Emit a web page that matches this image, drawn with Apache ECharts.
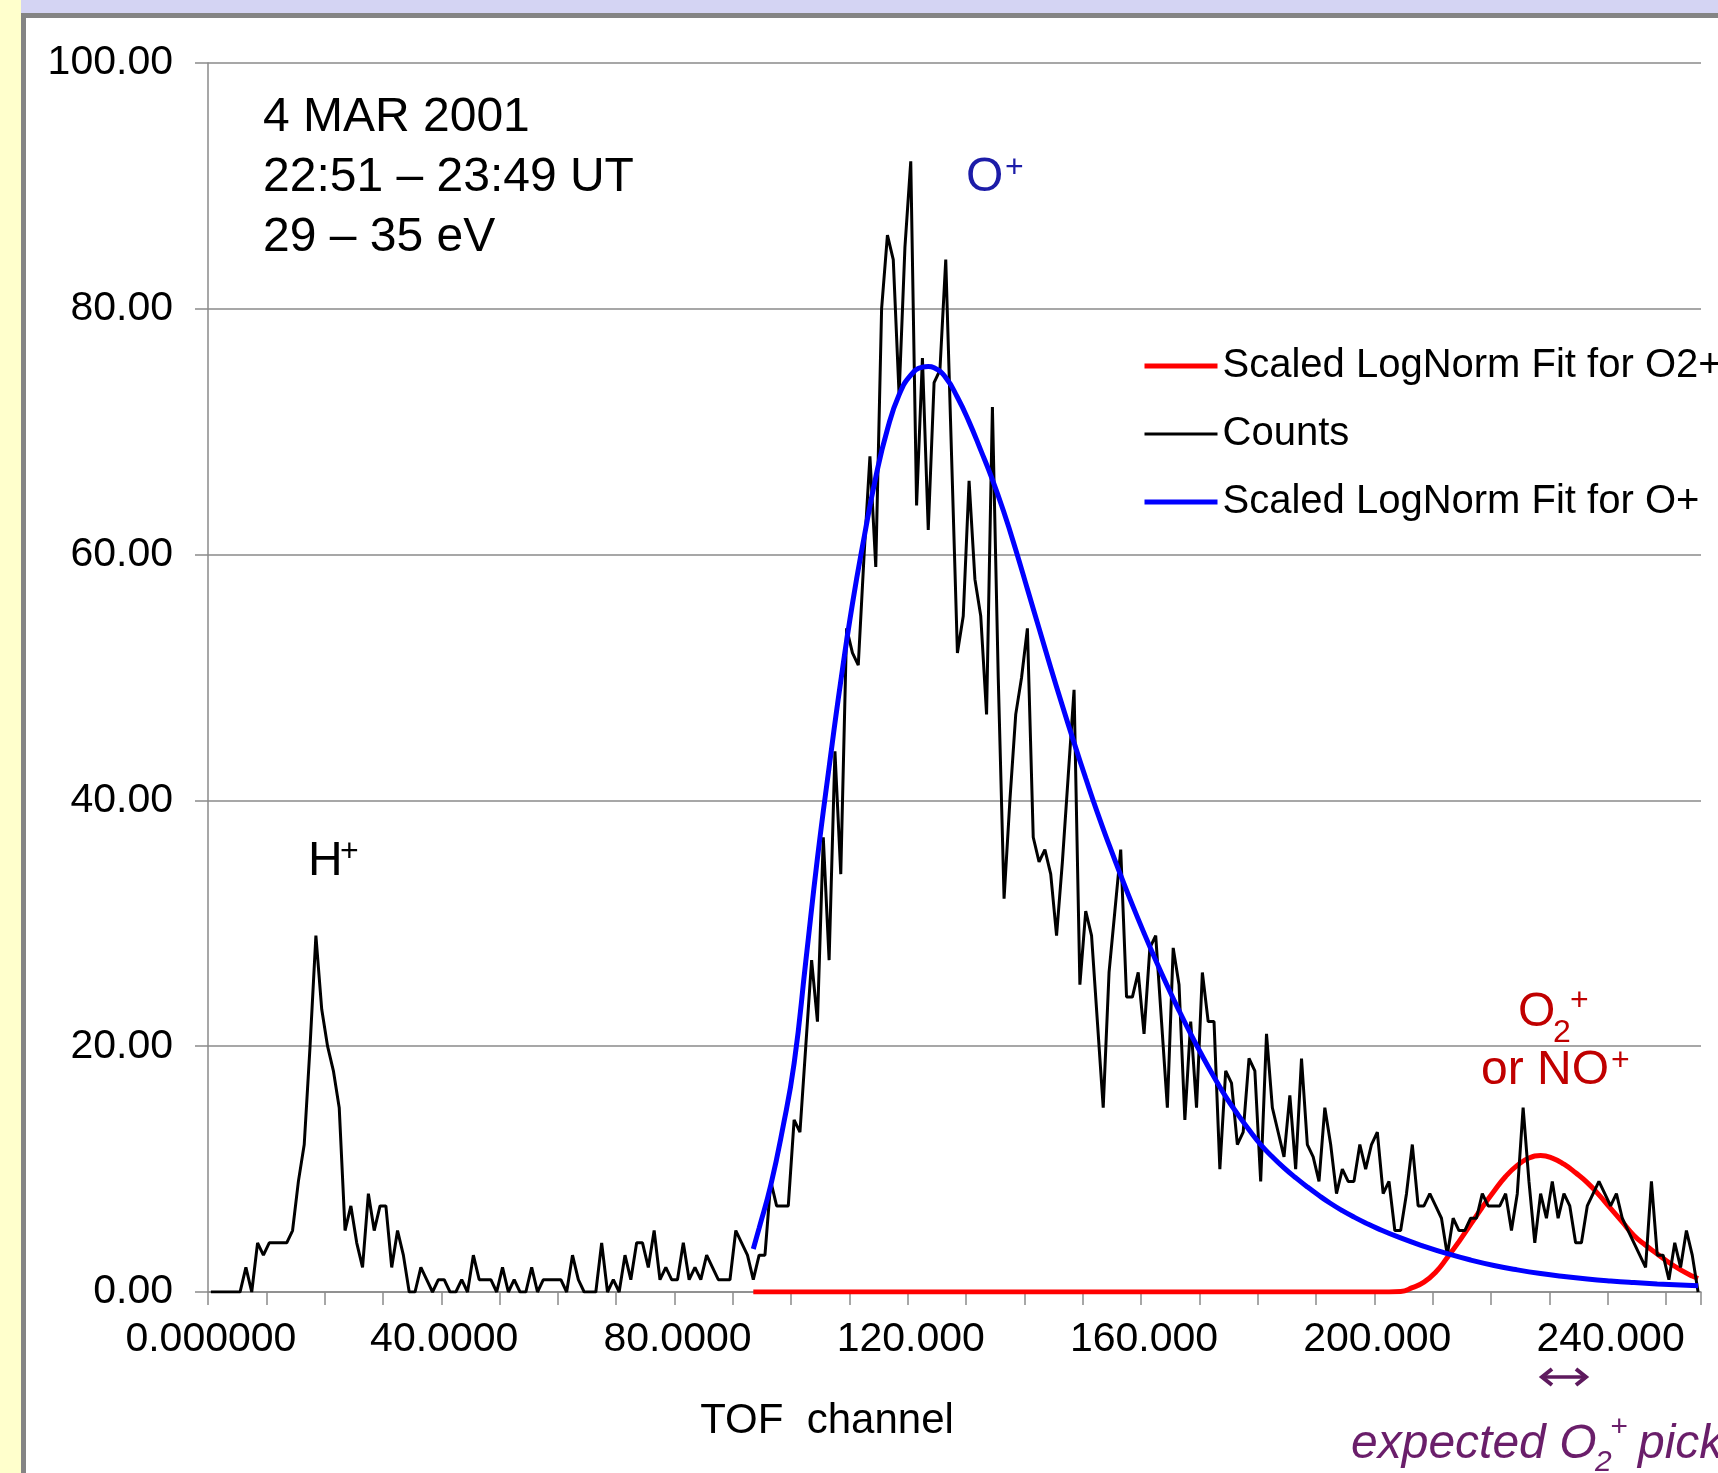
<!DOCTYPE html>
<html>
<head>
<meta charset="utf-8">
<script src="https://cdn.jsdelivr.net/npm/echarts@6/dist/echarts.min.js"></script>
<style>
html,body{margin:0;padding:0;background:#ffffff;}
#chart{width:1718px;height:1473px;}
</style>
</head>
<body>
<div id="chart"></div>
<script>
// ---------------- data ----------------
// TOF channels 0..255 (category axis)
const channels = Array.from({length: 256}, (_, i) => i);

// tick labels as printed in the original
const xTickValues = [0, 40, 80, 120, 160, 200, 240];
const xTickLabels = ["0.000000", "40.0000", "80.0000", "120.000", "160.000", "200.000", "240.000"];
const yTickLabels = ["0.00", "20.00", "40.00", "60.00", "80.00", "100.00"];

// Counts per TOF channel
const counts = [
  0, 0, 0, 0, 0, 0, 2, 0, 4, 3,            // 0-9
  4, 4, 4, 4, 5, 9, 12, 20, 29, 23,        // 10-19
  20, 18, 15, 5, 7, 4, 2, 8, 5, 7,         // 20-29
  7, 2, 5, 3, 0, 0, 2, 1, 0, 1,            // 30-39
  1, 0, 0, 1, 0, 3, 1, 1, 1, 0,            // 40-49
  2, 0, 1, 0, 0, 2, 0, 1, 1, 1,            // 50-59
  1, 0, 3, 1, 0, 0, 0, 4, 0, 1,            // 60-69
  0, 3, 1, 4, 4, 2, 5, 1, 2, 1,            // 70-79
  1, 4, 1, 2, 1, 3, 2, 1, 1, 1,            // 80-89
  5, 4, 3, 1, 3, 3, 9, 7, 7, 7,            // 90-99
  14, 13, 20, 27, 22, 37, 27, 44, 34, 54,  // 100-109
  52, 51, 60, 68, 59, 80, 86, 84, 73, 85,  // 110-119
  92, 64, 76, 62, 74, 75, 84, 68, 52, 55,  // 120-129
  66, 58, 55, 47, 72, 50, 32, 40, 47, 50,  // 130-139
  54, 37, 35, 36, 34, 29, 35, 42, 49, 25,  // 140-149
  31, 29, 22, 15, 26, 31, 36, 24, 24, 26,  // 150-159
  21, 28, 29, 22, 15, 28, 25, 14, 22, 15,  // 160-169
  26, 22, 22, 10, 18, 17, 12, 13, 19, 18,  // 170-179
  9, 21, 15, 13, 11, 16, 10, 19, 12, 11,   // 180-189
  9, 15, 12, 8, 10, 9, 9, 12, 10, 12,      // 190-199
  13, 8, 9, 5, 5, 8, 12, 7, 7, 8,          // 200-209
  7, 6, 3, 6, 5, 5, 6, 6, 8, 7,            // 210-219
  7, 7, 8, 5, 8, 15, 9, 4, 8, 6,           // 220-229
  9, 6, 8, 7, 4, 4, 7, 8, 9, 8,            // 230-239
  7, 8, 6, 5, 4, 3, 2, 9, 3, 3,            // 240-249
  1, 4, 2, 5, 3, 0                         // 250-255
];

// Scaled LogNorm fit for O+  ([channel, value])
const fitOPlus = [
  [93, 3.5], [94, 5.2], [96, 8.7], [98, 13.2], [100, 18.6], [102, 26.9],
  [104, 35.3], [106, 42.7], [108, 49.7], [110, 56.0], [112, 61.4], [114, 66.3],
  [116, 70.2], [118, 73.0], [120, 74.6], [122, 75.25], [123, 75.3], [124, 75.2],
  [126, 74.4], [128, 72.8], [130, 70.8], [132, 68.5], [134, 66.1], [136, 63.4],
  [138, 60.4], [140, 57.2], [142, 54.0], [144, 50.8], [146, 47.7], [148, 44.7],
  [150, 41.8], [152, 39.0], [154, 36.4], [156, 33.9], [158, 31.5], [160, 29.2],
  [162, 27.0], [164, 24.9], [166, 22.9], [168, 21.0], [170, 19.2], [172, 17.5],
  [174, 15.9], [176, 14.5], [178, 13.2], [180, 12.0], [182, 11.0], [184, 10.1],
  [186, 9.3], [188, 8.55], [190, 7.85], [192, 7.2], [194, 6.62], [196, 6.1],
  [198, 5.62], [200, 5.18], [204, 4.4], [208, 3.72], [212, 3.12], [216, 2.6],
  [220, 2.16], [224, 1.8], [228, 1.5], [232, 1.26], [236, 1.06], [240, 0.9],
  [244, 0.77], [248, 0.66], [252, 0.57], [255, 0.5]
];

// Scaled LogNorm fit for O2+ ([channel, value])
const fitO2Plus = [
  [93, 0], [200, 0], [204, 0.05], [206, 0.35], [208, 0.8], [210, 1.6],
  [212, 2.8], [214, 4.1], [216, 5.5], [218, 6.9], [220, 8.2], [222, 9.4],
  [224, 10.3], [226, 10.9], [228, 11.1], [230, 10.9], [232, 10.4], [234, 9.7],
  [236, 8.9], [238, 7.9], [240, 6.8], [242, 5.7], [244, 4.6], [246, 3.8],
  [248, 3.1], [250, 2.4], [252, 1.8], [254, 1.3], [255, 1.1]
];

const seriesNames = ["Scaled LogNorm Fit for O2+", "Counts", "Scaled LogNorm Fit for O+"];

// ---------------- chart ----------------
const FONT = '"Liberation Sans", Arial, Helvetica, sans-serif';
const AX = '#8a8a8a';
const RED = '#ff0000', BLACK = '#000000', BLUE = '#0000ff';

function txt(text, x, y, size, color, align, italic) {
  return {
    type: 'text', x: x, y: y, z: 100,
    style: {
      text: text,
      font: (italic ? 'italic ' : '') + size + 'px ' + FONT,
      fill: color,
      align: align || 'left', textAlign: align || 'left',
      verticalAlign: 'middle', textVerticalAlign: 'middle'
    }
  };
}

const chart = echarts.init(document.getElementById('chart'), null, {renderer: 'canvas'});

const option = {
  animation: false,
  backgroundColor: '#ffffff',
  grid: {left: 208, right: 17, top: 63, bottom: 181, containLabel: false, outerBoundsMode: 'none'},
  legend: {
    data: [
      {name: seriesNames[0], lineStyle: {width: 5, color: RED}},
      {name: seriesNames[1], lineStyle: {width: 3, color: BLACK}},
      {name: seriesNames[2], lineStyle: {width: 5, color: BLUE}}
    ],
    orient: 'vertical',
    left: 1137, top: 341,
    itemWidth: 73, itemHeight: 14, itemGap: 28,
    itemStyle: {opacity: 0, color: 'rgba(0,0,0,0)', borderWidth: 0},
    textStyle: {fontSize: 40, color: '#000', fontFamily: FONT},
    selectedMode: false
  },
  xAxis: {
    type: 'category',
    data: channels,
    boundaryGap: true,
    axisLine: {show: true, lineStyle: {color: AX, width: 1.5}},
    axisTick: {show: true, interval: (i) => i % 10 === 0, length: 13, lineStyle: {color: AX, width: 1.5}},
    axisLabel: {
      interval: (i) => i % 40 === 0,
      formatter: (v) => { const k = xTickValues.indexOf(Number(v)); return k >= 0 ? xTickLabels[k] : ''; },
      fontSize: 41, color: '#000', fontFamily: FONT, margin: 27
    },
    splitLine: {show: false}
  },
  yAxis: {
    type: 'value', min: 0, max: 100, interval: 20,
    axisLine: {show: true, lineStyle: {color: AX, width: 1.5}},
    axisTick: {show: true, length: 13, lineStyle: {color: AX, width: 1.5}},
    axisLabel: {
      formatter: (v) => yTickLabels[Math.round(v / 20)],
      fontSize: 41, color: '#000', fontFamily: FONT, margin: 35
    },
    splitLine: {show: true, lineStyle: {color: AX, width: 1.5}}
  },
  series: [
    {
      name: seriesNames[0], type: 'line', data: fitO2Plus,
      smooth: 0.5, symbol: 'none',
      lineStyle: {color: RED, width: 5}, itemStyle: {color: RED}
    },
    {
      name: seriesNames[1], type: 'line', data: counts,
      symbol: 'none',
      lineStyle: {color: BLACK, width: 3}, itemStyle: {color: BLACK}
    },
    {
      name: seriesNames[2], type: 'line', data: fitOPlus,
      smooth: 0.5, symbol: 'none',
      lineStyle: {color: BLUE, width: 5}, itemStyle: {color: BLUE}
    }
  ],
  graphic: [
    // frame decoration (slide background bands)
    {type: 'rect', shape: {x: 0, y: 0, width: 21, height: 1473}, style: {fill: '#ffffcc'}, z: 1},
    {type: 'rect', shape: {x: 21, y: 0, width: 1697, height: 13}, style: {fill: '#d4d4f3'}, z: 1},
    {type: 'rect', shape: {x: 21, y: 13, width: 1697, height: 5}, style: {fill: '#848484'}, z: 1},
    {type: 'rect', shape: {x: 21, y: 13, width: 5, height: 1460}, style: {fill: '#848484'}, z: 1},

    // header text
    txt('4 MAR 2001', 263, 118, 48, '#000'),
    txt('22:51 \u2013 23:49 UT', 263, 178, 48, '#000'),
    txt('29 \u2013 35 eV', 263, 238, 48, '#000'),

    // H+
    txt('H', 308, 862, 48, '#000'),
    txt('+', 340, 852, 32, '#000'),

    // O+
    txt('O', 966, 178, 48, '#1c1ca8'),
    txt('+', 1005, 168, 32, '#1c1ca8'),

    // O2+ or NO+
    txt('O', 1518, 1013, 48, '#c00000'),
    txt('2', 1553, 1033, 32, '#c00000'),
    txt('+', 1570, 1001, 32, '#c00000'),
    txt('or NO', 1481, 1071, 48, '#c00000'),
    txt('+', 1611, 1061, 32, '#c00000'),

    // axis title
    txt('TOF  channel', 827, 1421, 42, '#000', 'center'),

    // expected O2+ pick
    txt('expected O', 1351, 1445, 48, '#6a1e6a', 'left', true),
    txt('2', 1595, 1463, 30, '#6a1e6a', 'left', true),
    txt('+', 1610, 1428, 30, '#6a1e6a', 'left', true),
    txt('pick', 1638, 1445, 48, '#6a1e6a', 'left', true),

    // double arrow
    {type: 'line', shape: {x1: 1543, y1: 1377, x2: 1585, y2: 1377}, style: {stroke: '#5e1a5e', lineWidth: 3.5}, z: 100},
    {type: 'polyline', shape: {points: [[1552, 1369], [1542, 1377], [1552, 1385]]}, style: {stroke: '#5e1a5e', lineWidth: 4, fill: null}, z: 100},
    {type: 'polyline', shape: {points: [[1576, 1369], [1586, 1377], [1576, 1385]]}, style: {stroke: '#5e1a5e', lineWidth: 4, fill: null}, z: 100}
  ]
};

chart.setOption(option);
</script>
</body>
</html>
